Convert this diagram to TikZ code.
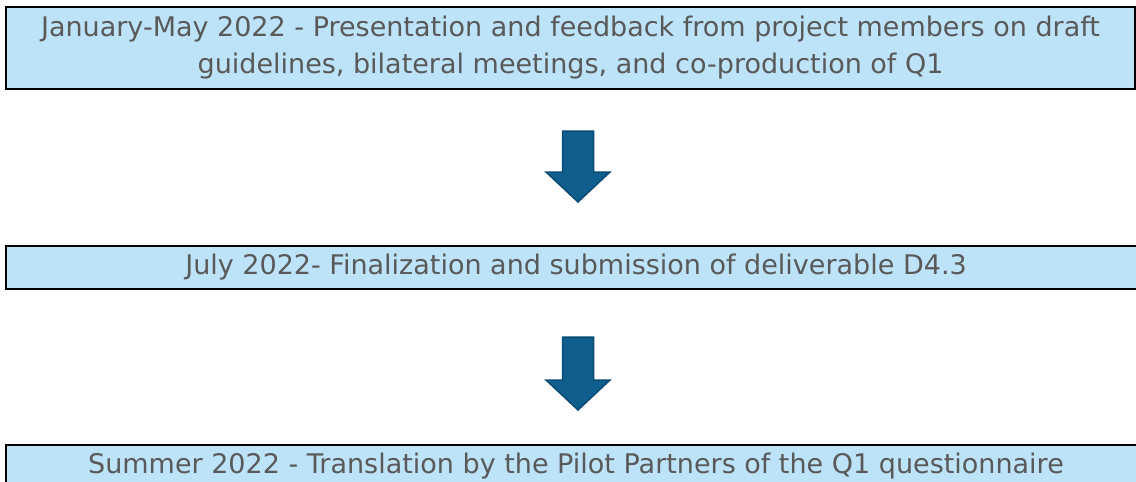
\documentclass[tikz,border=0pt]{standalone}
\usepackage{fontspec}
\setmainfont{DejaVu Sans}
\usetikzlibrary{calc}
\definecolor{boxblue}{RGB}{189,227,249}
\definecolor{textgray}{RGB}{89,89,89}
\definecolor{arrowblue}{RGB}{16,94,142}
\definecolor{arrowedge}{RGB}{11,74,114}
\tikzset{
  stagebox/.style={draw=black, line width=2pt, fill=boxblue, text=textgray,
    align=center, inner sep=0pt, font=\fontsize{27}{37}\selectfont},
  flowarrow/.style={fill=arrowblue, draw=arrowedge, line width=1.5pt, line join=miter}
}
% block arrow: #1 = top of the shaft, #2 = tip
\newcommand{\blockarrow}[2]{%
  \draw[flowarrow] ($(#1)+(-15.5,0)$) -- ($(#1)+(15.5,0)$) -- ($(#2)+(15.5,-30)$)
    -- ($(#2)+(32,-30)$) -- (#2) -- ($(#2)+(-32,-30)$) -- ($(#2)+(-15.5,-30)$) -- cycle;}

\begin{document}
\begin{tikzpicture}[x=1pt, y=-1pt]
\useasboundingbox (0,0) rectangle (1136,482);
\clip (0,0) rectangle (1136,482);

\node[stagebox, minimum width=1129pt, minimum height=82pt] (box1) at (570.5,48)
  {January-May 2022 - Presentation and feedback from project members on draft\\
   guidelines, bilateral meetings, and co-production of Q1};
\node[stagebox, minimum width=1140pt, minimum height=43pt] (box2) at (576,267.5)
  {July 2022- Finalization and submission of deliverable D4.3};
\node[stagebox, minimum width=1140pt, minimum height=43pt, anchor=north] (box3) at (576,444)
  {Summer 2022 - Translation by the Pilot Partners of the Q1 questionnaire};

\coordinate (a1top) at ($(box1.south)+(7.5,41)$);
\coordinate (a1tip) at ($(box2.north)+(2,-43)$);
\coordinate (a2top) at ($(box2.south)+(2,47)$);
\coordinate (a2tip) at ($(box3.north)+(2,-34)$);
\blockarrow{a1top}{a1tip}
\blockarrow{a2top}{a2tip}
\end{tikzpicture}
\end{document}
